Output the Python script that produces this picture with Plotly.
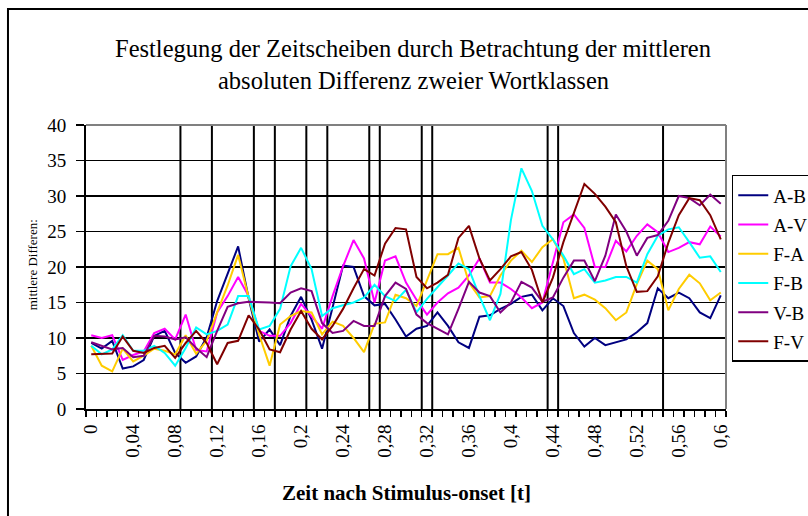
import plotly.graph_objects as go

# ---------------- data ----------------
zeit = [0.00, 0.01, 0.02, 0.03, 0.04, 0.05, 0.06, 0.07, 0.08, 0.09,
        0.10, 0.11, 0.12, 0.13, 0.14, 0.15, 0.16, 0.17, 0.18, 0.19,
        0.20, 0.21, 0.22, 0.23, 0.24, 0.25, 0.26, 0.27, 0.28, 0.29,
        0.30, 0.31, 0.32, 0.33, 0.34, 0.35, 0.36, 0.37, 0.38, 0.39,
        0.40, 0.41, 0.42, 0.43, 0.44, 0.45, 0.46, 0.47, 0.48, 0.49,
        0.50, 0.51, 0.52, 0.53, 0.54, 0.55, 0.56, 0.57, 0.58, 0.59,
        0.60]

tick_werte = [0.00, 0.04, 0.08, 0.12, 0.16, 0.20, 0.24, 0.28,
              0.32, 0.36, 0.40, 0.44, 0.48, 0.52, 0.56, 0.60]
tick_texte = ["0", "0,04", "0,08", "0,12", "0,16", "0,2", "0,24", "0,28",
              "0,32", "0,36", "0,4", "0,44", "0,48", "0,52", "0,56", "0,6"]

# Grenzen der Zeitscheiben (zwischen zwei Messzeitpunkten)
zeitscheiben_grenzen = [0.085, 0.115, 0.155, 0.175, 0.205, 0.225, 0.265, 0.275,
                        0.315, 0.325, 0.435, 0.445, 0.545]

A_B = [9.3, 8.5, 9.6, 5.7, 6.0, 6.9, 10.3, 11.0, 7.9, 6.5,
       7.4, 10.1, 15.2, 19.0, 22.9, 15.6, 9.5, 11.2, 9.0, 13.1,
       15.8, 12.6, 8.5, 14.3, 20.2, 20.0, 15.9, 14.6, 14.8, 12.6,
       10.2, 11.3, 11.7, 13.6, 11.7, 9.4, 8.6, 13.0, 13.2, 14.1,
       14.8, 15.8, 16.1, 13.9, 15.6, 14.5, 10.7, 8.8, 10.0, 9.0,
       9.4, 9.8, 10.8, 12.1, 17.0, 15.6, 16.4, 15.6, 13.6, 12.8,
       16.0]

A_V = [10.4, 10.0, 10.4, 6.9, 7.6, 8.1, 10.7, 11.3, 9.8, 13.3,
       8.3, 8.1, 13.6, 15.9, 18.6, 15.9, 11.0, 10.3, 10.3, 12.1,
       14.8, 13.1, 11.3, 15.9, 20.1, 23.8, 21.2, 15.0, 20.9, 21.5,
       17.8, 15.4, 13.3, 15.0, 16.3, 17.1, 18.8, 21.2, 17.8, 17.8,
       16.9, 15.7, 14.2, 15.0, 20.6, 26.3, 27.4, 25.5, 20.0, 20.0,
       23.7, 22.2, 24.4, 26.0, 24.9, 22.1, 22.7, 23.5, 23.2, 25.7,
       24.3]

F_A = [8.9, 6.1, 5.3, 8.5, 6.7, 7.5, 8.5, 8.2, 7.7, 10.4,
       7.8, 9.6, 13.6, 17.4, 21.7, 15.7, 10.5, 6.1, 11.9, 13.1,
       13.8, 13.6, 10.5, 12.3, 11.7, 10.0, 8.0, 12.0, 12.2, 16.1,
       15.6, 14.5, 18.1, 21.8, 21.8, 22.7, 17.8, 15.7, 15.9, 18.8,
       20.9, 22.3, 20.7, 22.8, 23.9, 21.2, 15.6, 16.1, 15.4, 14.2,
       12.5, 13.6, 17.6, 20.9, 19.7, 13.9, 16.9, 18.9, 17.7, 15.3,
       16.4]

F_B = [8.9, 7.7, 8.4, 10.4, 8.2, 8.2, 8.9, 7.9, 6.1, 8.6,
       11.5, 10.5, 11.0, 11.9, 15.9, 15.9, 11.2, 11.7, 14.1, 20.1,
       22.7, 19.7, 13.1, 14.2, 14.6, 15.0, 15.7, 17.5, 15.9, 15.2,
       16.8, 13.6, 15.5, 17.1, 18.8, 20.5, 19.7, 15.9, 12.5, 16.2,
       26.6, 33.9, 30.7, 25.8, 23.9, 21.6, 19.0, 19.7, 17.8, 18.1,
       18.6, 18.6, 17.8, 21.8, 24.4, 25.3, 25.6, 23.5, 21.3, 21.5,
       19.3]

V_B = [9.4, 8.9, 8.4, 8.6, 7.3, 7.5, 10.3, 10.2, 9.8, 10.1,
       8.6, 7.3, 11.0, 14.4, 14.9, 15.1, 15.1, 15.0, 14.9, 16.4,
       17.0, 16.6, 12.1, 10.7, 11.0, 12.4, 11.7, 11.7, 15.9, 17.8,
       16.9, 13.3, 12.1, 11.3, 10.5, 14.1, 17.9, 16.4, 15.9, 13.6,
       15.0, 17.9, 17.1, 15.1, 15.7, 18.5, 20.9, 20.9, 18.0, 21.6,
       27.4, 25.0, 21.6, 24.1, 24.5, 26.5, 30.0, 29.7, 28.7, 30.2,
       28.9]

F_V = [7.7, 7.8, 7.8, 10.2, 8.2, 7.9, 8.6, 8.9, 7.2, 9.3,
       11.0, 9.3, 6.3, 9.3, 9.6, 13.2, 11.2, 8.4, 8.0, 11.2,
       13.8, 11.3, 9.8, 11.7, 14.1, 17.0, 19.7, 18.8, 23.3, 25.5,
       25.3, 18.6, 17.0, 17.8, 18.9, 24.1, 25.8, 21.2, 18.1, 19.7,
       21.5, 22.1, 19.6, 15.0, 18.5, 23.5, 27.7, 31.7, 30.3, 28.5,
       26.3, 20.1, 16.5, 16.6, 18.7, 23.4, 27.3, 29.7, 29.4, 27.3,
       23.9]

serien_namen = ["A-B", "A-V", "F-A", "F-B", "V-B", "F-V"]
serien_werte = [A_B, A_V, F_A, F_B, V_B, F_V]
serien_farben = ["#000080", "#FF00FF", "#FFCC00", "#00FFFF", "#800080", "#800000"]

SERIF = "Liberation Serif, Times New Roman, serif"

fig = go.Figure()
for name, werte, farbe in zip(serien_namen, serien_werte, serien_farben):
    fig.add_trace(go.Scatter(
        x=zeit, y=werte, name=name, mode="lines",
        line=dict(color=farbe, width=2),
        legendgroup=name, hoverinfo="skip",
    ))

shapes = []
for g in zeitscheiben_grenzen:
    shapes.append(dict(type="line", xref="x", yref="paper", x0=g, x1=g, y0=0, y1=1,
                       line=dict(color="black", width=2), layer="below"))
# Plotbereich-Rahmen oben/rechts (grau)
shapes.append(dict(type="line", xref="paper", yref="paper", x0=0, x1=1, y0=1, y1=1,
                   line=dict(color="#808080", width=2), layer="above"))
shapes.append(dict(type="line", xref="paper", yref="paper", x0=1, x1=1, y0=0, y1=1,
                   line=dict(color="#808080", width=2), layer="above"))
# Diagrammrahmen
shapes.append(dict(type="rect", xref="paper", yref="paper", x0=-0.1219, x1=1.3,
                   y0=-0.6, y1=1.4085, line=dict(color="black", width=2),
                   fillcolor="rgba(0,0,0,0)", layer="above"))

annotations = [
    dict(text="Festlegung der Zeitscheiben durch Betrachtung der mittleren",
         xref="paper", yref="paper", x=0.511, y=1.271, showarrow=False,
         xanchor="center", yanchor="middle",
         font=dict(family=SERIF, size=24.5, color="black")),
    dict(text="absoluten Differenz zweier Wortklassen",
         xref="paper", yref="paper", x=0.511, y=1.158, showarrow=False,
         xanchor="center", yanchor="middle",
         font=dict(family=SERIF, size=24.5, color="black")),
    dict(text="<b>Zeit nach Stimulus-onset [t]</b>",
         xref="paper", yref="paper", x=0.5, y=-0.296, showarrow=False,
         xanchor="center", yanchor="middle",
         font=dict(family=SERIF, size=21, color="black")),
    dict(text="mittlere Differen:",
         xref="paper", yref="paper", x=-0.084, y=0.507, showarrow=False,
         xanchor="center", yanchor="middle", textangle=-90,
         font=dict(family=SERIF, size=13, color="black")),
]

fig.update_layout(
    width=808, height=516,
    margin=dict(l=86, r=82, t=125, b=107, autoexpand=False),
    paper_bgcolor="white", plot_bgcolor="white",
    shapes=shapes, annotations=annotations,
    showlegend=True, hovermode=False,
    legend=dict(x=1.009, xanchor="left", y=0.824, yanchor="top",
                bordercolor="black", borderwidth=1.5, bgcolor="white",
                font=dict(family=SERIF, size=19, color="black"),
                tracegroupgap=1.5, itemwidth=30),
    xaxis=dict(range=[-0.005, 0.605], tickmode="array", tickvals=tick_werte,
               ticktext=tick_texte, tickangle=-90, ticks="", showgrid=False,
               showline=True, linecolor="black", linewidth=2, zeroline=False,
               ticklabelstandoff=6,
               tickfont=dict(family=SERIF, size=19, color="black"),
               minor=dict(ticks="outside", ticklen=6, tickwidth=1.5, tickcolor="black",
                          tick0=0.005, dtick=0.01, showgrid=False)),
    yaxis=dict(range=[0, 40], dtick=5, tick0=0, ticks="outside", ticklen=8,
               tickwidth=1.5, tickcolor="black", showgrid=True, gridcolor="black",
               gridwidth=1.5, showline=True, linecolor="black", linewidth=2,
               zeroline=False, ticklabelstandoff=6,
               tickfont=dict(family=SERIF, size=19, color="black")),
)

fig.write_html("out.html",
               config={"displayModeBar": False, "staticPlot": True},
               post_script="document.body.style.margin='0';document.body.style.overflow='hidden';")
